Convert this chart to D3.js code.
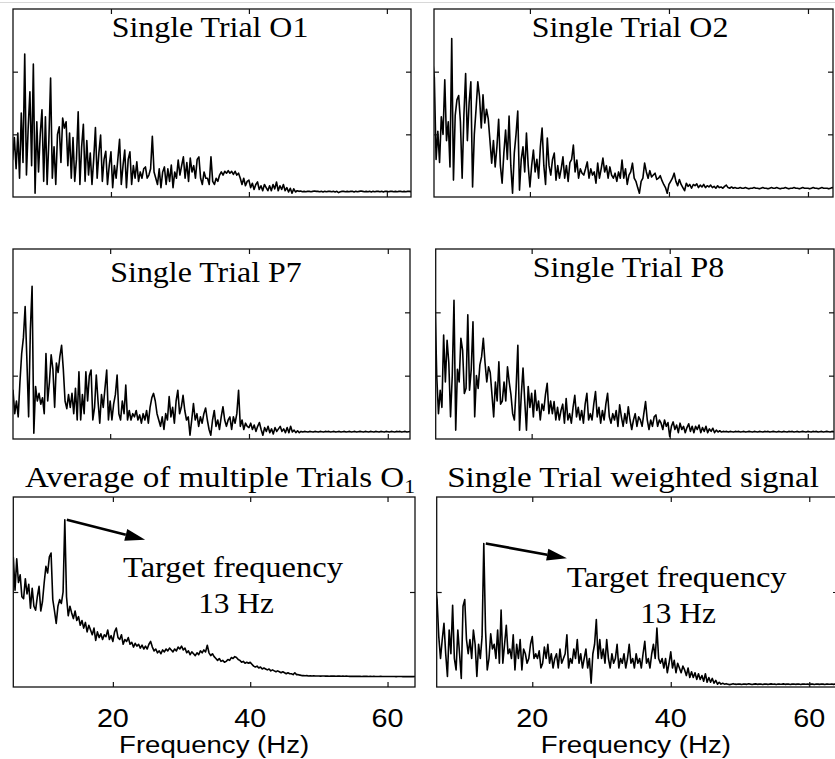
<!DOCTYPE html>
<html>
<head>
<meta charset="utf-8">
<script src="https://cdn.jsdelivr.net/npm/d3@7"></script>
<style>
  html, body { margin: 0; padding: 0; background: #fff; }
  svg { display: block; }
</style>
</head>
<body>
<svg id="chart" width="835" height="759"></svg>
<script>
// Frequency grid shared by all spectra (Hz)
const freqStart = 5.5;
const freqStep = 0.25;

// Amplitude spectra, one value per 0.25 Hz from 5.5 Hz to 64 Hz
const singleO1 = [
  0.9,0.6, 0.95,0.45,1.02,0.30, 1.34,0.55,2.28,0.35, 1.1,1.68,0.5,2.12, 0.06,1.2,0.4,1.0,
  1.39,0.25,1.28,0.2, 0.9,1.90,0.3,0.8, 0.2,1.0,1.12,0.55, 1.26,1.1,1.2,0.5, 1.02,0.3,0.95,0.25,
  0.6,1.36,0.2,0.8, 1.16,0.25,0.9,0.35, 0.7,0.2,0.6,1.11, 0.3,0.7,0.99,0.25, 0.6,0.73,0.2,0.5,
  0.72,0.15,0.5,0.3, 0.6,0.92,0.2,0.5, 0.75,0.15,0.6,0.72, 0.2,0.5,0.3,0.56, 0.25,0.4,0.3,0.45,
  0.48,0.3,0.35,0.45, 0.97,0.4,0.3,0.2, 0.45,0.15,0.4,0.48, 0.2,0.45,0.25,0.51, 0.15,0.4,0.3,0.59,
  0.35,0.5,0.64,0.3, 0.55,0.25,0.62,0.4, 0.5,0.3,0.6,0.64, 0.3,0.2,0.4,0.3, 0.3,0.2,0.64,0.25,
  0.2,0.3,0.25,0.35, 0.4,0.35,0.41,0.38, 0.42,0.38,0.41,0.36, 0.41,0.35,0.38,0.3, 0.2,0.3,0.18,0.25,
  0.27,0.15,0.22,0.12, 0.2,0.24,0.12,0.18, 0.1,0.2,0.15,0.1, 0.18,0.1,0.2,0.13, 0.24,0.1,0.18,0.12,
  0.2,0.1,0.15,0.08, 0.14,0.06,0.13,0.08, 0.1,0.09,0.095,0.085, 0.09,0.085,0.09,0.09, 0.085,0.09,0.095,0.09,
  0.09,0.085,0.09,0.08, 0.09,0.085,0.09,0.09, 0.085,0.09,0.08,0.09, 0.07,0.085,0.09,0.09, 0.085,0.09,0.085,0.09,
  0.09,0.08,0.09,0.085, 0.09,0.095,0.09,0.085, 0.09,0.085,0.09,0.08, 0.09,0.085,0.09,0.09, 0.085,0.09,0.08,0.09,
  0.09,0.085,0.09,0.09, 0.085,0.09,0.085,0.09, 0.09,0.085,0.09,0.085, 0.09,0.09,0.085,0.09, 0.09
];

const singleO2 = [
  2.2,2.2, 2.2,1.9,0.6,1.05, 0.55,1.28,1.0,1.87, 0.9,1.2,0.48,2.53, 0.27,1.3,1.55,1.62,
  1.2,0.3,1.3,1.97, 0.9,1.5,1.84,0.16, 1.0,1.4,1.84,1.6, 1.1,1.63,1.18,1.4, 1.25,0.9,0.54,0.9,
  0.48,0.8,1.24,0.5, 0.22,0.7,1.07,0.6, 1.29,0.5,0.06,0.7, 1.0,1.37,0.11,0.6, 0.8,0.4,1.02,0.5,
  0.16,0.5,0.75,0.4, 0.6,0.3,0.8,1.1, 0.5,0.2,0.94,0.5, 0.35,0.6,0.7,0.27, 0.5,0.3,0.45,0.64,
  0.3,0.5,0.25,0.55, 0.6,0.83,0.4,0.59, 0.3,0.45,0.38,0.35, 0.45,0.56,0.3,0.45, 0.35,0.4,0.22,0.54,
  0.3,0.45,0.62,0.4, 0.5,0.3,0.48,0.35, 0.3,0.38,0.25,0.4, 0.3,0.59,0.3,0.45, 0.2,0.35,0.4,0.54,
  0.3,0.25,0.15,0.06, 0.25,0.3,0.54,0.4, 0.3,0.42,0.32,0.35, 0.38,0.28,0.3,0.34, 0.26,0.2,0.15,0.06,
  0.2,0.25,0.3,0.38, 0.25,0.18,0.28,0.2, 0.15,0.1,0.22,0.17, 0.2,0.14,0.2,0.18, 0.21,0.15,0.19,0.16,
  0.2,0.15,0.18,0.16, 0.19,0.15,0.17,0.14, 0.18,0.15,0.16,0.14, 0.17,0.19,0.15,0.14, 0.16,0.14,0.15,0.14,
  0.14,0.15,0.14,0.14, 0.15,0.14,0.13,0.14, 0.14,0.15,0.14,0.14, 0.13,0.14,0.15,0.14, 0.14,0.13,0.14,0.15,
  0.14,0.14,0.15,0.14, 0.13,0.14,0.14,0.15, 0.14,0.13,0.14,0.14, 0.15,0.14,0.14,0.13, 0.14,0.15,0.14,0.14,
  0.14,0.13,0.14,0.15, 0.14,0.14,0.13,0.14, 0.15,0.14,0.14,0.14, 0.13,0.14,0.15,0.14, 0.14
];

const singleP7 = [
  0.6,0.5, 0.77,0.4,0.6,0.35, 0.9,1.35,1.6,2.09, 1.25,0.35,1.72,2.41, 0.09,0.83,0.6,0.72,
  0.55,0.65,0.4,1.35, 0.6,0.9,1.33,1.1, 0.5,1.2,1.05,1.3, 1.48,1.1,0.6,0.48, 0.7,0.5,0.72,0.4,
  0.8,0.3,1.06,0.3, 0.7,0.4,1.06,0.6, 1.0,1.09,0.3,0.5, 1.01,0.6,0.25,0.7, 0.5,0.8,1.09,0.3,
  0.6,0.3,0.55,0.7, 1.01,0.4,0.3,0.6, 0.4,0.85,0.3,0.45, 0.3,0.4,0.35,0.45, 0.3,0.38,0.25,0.4,
  0.3,0.45,0.25,0.5, 0.65,0.72,0.6,0.4, 0.3,0.2,0.35,0.15, 0.4,0.3,0.67,0.35, 0.5,0.25,0.6,0.77,
  0.4,0.5,0.69,0.45, 0.3,0.35,0.06,0.3, 0.56,0.3,0.4,0.2, 0.35,0.25,0.4,0.49, 0.3,0.15,0.06,0.3,
  0.45,0.2,0.3,0.15, 0.35,0.51,0.3,0.2, 0.3,0.35,0.15,0.35, 0.25,0.4,0.77,0.2, 0.3,0.15,0.25,0.2,
  0.18,0.25,0.15,0.22, 0.12,0.2,0.26,0.15, 0.06,0.18,0.12,0.2, 0.1,0.16,0.08,0.18, 0.12,0.16,0.2,0.12,
  0.16,0.1,0.18,0.1, 0.2,0.11,0.14,0.1, 0.13,0.1,0.12,0.11, 0.12,0.115,0.11,0.12, 0.115,0.11,0.12,0.115,
  0.11,0.12,0.115,0.11, 0.12,0.115,0.12,0.11, 0.115,0.12,0.11,0.115, 0.12,0.11,0.115,0.12, 0.11,0.115,0.12,0.11,
  0.115,0.12,0.11,0.115, 0.12,0.115,0.11,0.12, 0.115,0.11,0.12,0.115, 0.11,0.12,0.115,0.11, 0.12,0.115,0.11,0.12,
  0.115,0.11,0.12,0.115, 0.11,0.12,0.115,0.12, 0.11,0.115,0.12,0.11, 0.115,0.12,0.11,0.115, 0.12
];

const singleP8 = [
  2.2,2.2, 2.2,1.0,0.4,0.77, 0.5,1.64,0.9,1.56, 1.2,0.35,1.0,2.19, 0.14,1.1,0.9,1.59,
  1.4,0.72,0.8,1.96, 0.77,1.1,1.85,0.35, 1.0,0.8,1.17,1.3, 1.59,1.2,0.9,1.14, 1.05,0.7,0.35,0.9,
  0.6,1.22,0.55,0.6, 0.9,0.6,1.14,0.9, 0.7,0.4,0.3,0.8, 1.48,0.14,0.7,1.12, 0.6,0.14,0.83,0.5,
  0.72,0.35,0.77,0.45, 0.6,0.3,0.55,0.45, 0.7,0.88,0.4,0.6, 0.4,0.59,0.3,0.5, 0.3,0.45,0.55,0.25,
  0.64,0.3,0.4,0.25, 0.5,0.69,0.35,0.5, 0.3,0.45,0.25,0.55, 0.72,0.3,0.4,0.3, 0.55,0.75,0.35,0.5,
  0.25,0.45,0.3,0.55, 0.72,0.35,0.25,0.4, 0.3,0.45,0.2,0.54, 0.35,0.2,0.4,0.25, 0.51,0.3,0.15,0.3,
  0.4,0.2,0.35,0.3, 0.2,0.4,0.59,0.3, 0.15,0.3,0.2,0.35, 0.38,0.2,0.3,0.25, 0.15,0.3,0.2,0.26,
  0.04,0.2,0.27,0.15, 0.22,0.1,0.25,0.15, 0.2,0.1,0.18,0.24, 0.12,0.2,0.1,0.2, 0.15,0.22,0.1,0.18,
  0.12,0.2,0.1,0.16, 0.12,0.17,0.1,0.14, 0.11,0.13,0.11,0.12, 0.115,0.12,0.11,0.12, 0.115,0.11,0.12,0.115,
  0.12,0.11,0.115,0.12, 0.11,0.115,0.12,0.115, 0.11,0.12,0.115,0.11, 0.12,0.115,0.11,0.12, 0.115,0.12,0.11,0.115,
  0.12,0.115,0.11,0.12, 0.115,0.11,0.12,0.115, 0.11,0.12,0.115,0.12, 0.11,0.115,0.12,0.11, 0.115,0.12,0.115,0.11,
  0.12,0.115,0.11,0.12, 0.115,0.12,0.11,0.115, 0.12,0.11,0.115,0.12, 0.115,0.11,0.12,0.115, 0.12
];

const averageO1 = [
  1.37,1.02, 1.35,1.1,1.18,0.95, 0.93,1.14,0.98,1.08, 0.83,1.04,0.85,0.81, 0.95,1.06,0.8,0.9,
  1.1,1.27,1.2,1.37, 1.41,0.92,0.8,0.67, 0.85,0.92,0.88,1.0, 1.76,0.95,0.75,0.85, 0.78,0.72,0.8,0.7,
  0.74,0.65,0.7,0.62, 0.68,0.58,0.65,0.6, 0.55,0.62,0.49,0.58, 0.52,0.56,0.5,0.55, 0.53,0.6,0.5,0.54,
  0.48,0.58,0.62,0.52, 0.5,0.55,0.45,0.5, 0.48,0.52,0.45,0.47, 0.42,0.46,0.43,0.45, 0.41,0.44,0.4,0.43,
  0.4,0.45,0.48,0.42, 0.38,0.4,0.36,0.38, 0.35,0.39,0.37,0.4, 0.38,0.41,0.39,0.37, 0.4,0.38,0.42,0.4,
  0.43,0.39,0.41,0.36, 0.38,0.34,0.37,0.35, 0.33,0.36,0.34,0.38, 0.36,0.39,0.37,0.44, 0.36,0.33,0.35,0.32,
  0.3,0.28,0.3,0.27, 0.28,0.26,0.27,0.29, 0.28,0.31,0.3,0.32, 0.31,0.29,0.28,0.26, 0.27,0.25,0.26,0.25,
  0.26,0.24,0.22,0.21, 0.22,0.2,0.21,0.19, 0.2,0.19,0.18,0.19, 0.17,0.18,0.17,0.16, 0.17,0.16,0.15,0.16,
  0.15,0.14,0.15,0.14, 0.14,0.13,0.15,0.13, 0.13,0.125,0.12,0.12, 0.118,0.12,0.116,0.118, 0.115,0.117,0.115,0.116,
  0.115,0.114,0.116,0.115, 0.114,0.115,0.113,0.115, 0.114,0.115,0.113,0.114, 0.115,0.113,0.114,0.113, 0.114,0.113,0.112,0.113,
  0.112,0.113,0.112,0.113, 0.112,0.111,0.112,0.113, 0.112,0.111,0.112,0.111, 0.112,0.111,0.11,0.111, 0.112,0.111,0.11,0.111,
  0.11,0.111,0.11,0.111, 0.11,0.109,0.11,0.111, 0.11,0.109,0.11,0.109, 0.11,0.109,0.11,0.109, 0.11
];

const weightedSignal = [
  1.06,1.06, 1.06,0.92,0.53,0.3, 0.5,0.67,0.35,0.11, 0.6,0.35,0.86,0.3, 0.18,0.6,0.35,0.09,
  0.85,0.92,0.5,0.35, 0.5,0.3,0.6,0.45, 0.11,0.45,0.3,0.53, 1.51,0.6,0.18,0.3, 0.56,0.4,0.45,0.3,
  0.6,0.25,0.81,0.25, 0.45,0.65,0.35,0.4, 0.3,0.55,0.18,0.45, 0.3,0.5,0.18,0.4, 0.35,0.25,0.3,0.45,
  0.53,0.3,0.35,0.3, 0.38,0.2,0.25,0.42, 0.3,0.45,0.25,0.35, 0.2,0.3,0.35,0.2, 0.4,0.25,0.3,0.35,
  0.55,0.2,0.3,0.25, 0.4,0.3,0.5,0.25, 0.35,0.2,0.3,0.4, 0.2,0.3,0.04,0.35, 0.45,0.71,0.3,0.5,
  0.3,0.4,0.25,0.5, 0.3,0.2,0.35,0.25, 0.3,0.45,0.2,0.3, 0.25,0.35,0.2,0.3, 0.45,0.25,0.3,0.2,
  0.35,0.25,0.3,0.2, 0.35,0.48,0.25,0.3, 0.2,0.35,0.45,0.3, 0.62,0.3,0.25,0.3, 0.2,0.3,0.15,0.25,
  0.37,0.2,0.28,0.15, 0.25,0.2,0.15,0.22, 0.18,0.12,0.2,0.1, 0.16,0.1,0.15,0.08, 0.14,0.08,0.12,0.06,
  0.14,0.05,0.1,0.05, 0.09,0.04,0.07,0.03, 0.05,0.03,0.04,0.03, 0.035,0.03,0.025,0.03, 0.035,0.03,0.028,0.032,
  0.03,0.026,0.032,0.03, 0.028,0.034,0.03,0.027, 0.03,0.033,0.028,0.03, 0.032,0.027,0.03,0.031, 0.028,0.03,0.033,0.029,
  0.03,0.027,0.032,0.03, 0.029,0.033,0.028,0.03, 0.031,0.027,0.03,0.032, 0.028,0.03,0.031,0.027, 0.03,0.032,0.029,0.03,
  0.028,0.031,0.03,0.027, 0.032,0.03,0.028,0.031, 0.03,0.027,0.032,0.03, 0.029,0.031,0.028,0.03, 0.03
];

const panelTitles = [
  "Single Trial O1", "Single Trial O2",
  "Single Trial P7", "Single Trial P8",
  "Average of multiple Trials O", "Single Trial weighted signal"
];
const xTickValues = [20, 40, 60];
const xAxisTitle = "Frequency (Hz)";
const annotationLines = ["Target frequency", "13 Hz"];
const targetFreq = 13;

// Panel frames (pixels) and axis ranges
const panels = [
  { values: singleO1, title: panelTitles[0], x0: 13, x1: 411, y0: 9, y1: 197, xd: [5.8, 63.5], ymax: 3, yt: [1, 2], tx: 210, ty: 37.3, ts: 1.1 },
  { values: singleO2, title: panelTitles[1], x0: 434, x1: 833, y0: 9, y1: 197, xd: [6.2, 63.6], ymax: 3, yt: [1, 2], tx: 630, ty: 37.3, ts: 1.1 },
  { values: singleP7, title: panelTitles[2], x0: 13, x1: 410, y0: 249, y1: 439, xd: [6.0, 63.2], ymax: 3, yt: [1, 2], tx: 206, ty: 281.7, ts: 1.1 },
  { values: singleP8, title: panelTitles[3], x0: 435.7, x1: 834, y0: 249, y1: 439, xd: [6.1, 63.8], ymax: 3, yt: [1, 2], tx: 628.5, ty: 276.7, ts: 1.1 },
  { values: averageO1, title: panelTitles[4], sub: "1", x0: 13.3, x1: 415, y0: 497, y1: 687, xd: [5.5, 64], ymax: 2, yt: [1], tx: 220, ty: 486.7, ts: 1.14,
    labels: true, arrowTo: [24.7, 1.55], note: [233, 576.7, 236, 613.3] },
  { values: weightedSignal, title: panelTitles[5], x0: 436.7, x1: 838, y0: 497, y1: 687, xd: [6.2, 64.15], ymax: 2, yt: [1], tx: 633, ty: 486.7, ts: 1.14,
    labels: true, arrowTo: [25.0, 1.355], note: [676.7, 586.7, 678, 623.3] }
];

const svg = d3.select("#chart");
const serif = "'Liberation Serif', 'Times New Roman', serif";
const sans = "'Liberation Sans', Arial, sans-serif";
const ink = "#111";

// faint rule along the top edge
svg.append("line").attr("x1", 0).attr("x2", 835).attr("y1", 2.5).attr("y2", 2.5)
  .attr("stroke", "#d8d8d8").attr("stroke-width", 1);

const defs = svg.append("defs");

panels.forEach((p, i) => {
  const x = d3.scaleLinear().domain(p.xd).range([p.x0, p.x1]);
  const y = d3.scaleLinear().domain([0, p.ymax]).range([p.y1, p.y0]);
  const g = svg.append("g");

  defs.append("clipPath").attr("id", "clip" + i)
    .append("rect").attr("x", p.x0).attr("y", p.y0)
    .attr("width", p.x1 - p.x0).attr("height", p.y1 - p.y0);

  // spectrum trace
  const line = d3.line()
    .x((d, k) => x(freqStart + k * freqStep))
    .y(d => y(d));
  g.append("path")
    .datum(p.values)
    .attr("clip-path", `url(#clip${i})`)
    .attr("d", line)
    .attr("fill", "none")
    .attr("stroke", "#000")
    .attr("stroke-width", 1.6)
    .attr("stroke-linejoin", "round");

  // inward ticks on all four sides
  const tl = 5;
  const bottomAxis = d3.axisBottom(x).tickValues(xTickValues).tickSizeInner(-tl).tickSizeOuter(0).tickFormat("");
  const topAxis = d3.axisTop(x).tickValues(xTickValues).tickSizeInner(-tl).tickSizeOuter(0).tickFormat("");
  const leftAxis = d3.axisLeft(y).tickValues(p.yt).tickSizeInner(-tl).tickSizeOuter(0).tickFormat("");
  const rightAxis = d3.axisRight(y).tickValues(p.yt).tickSizeInner(-tl).tickSizeOuter(0).tickFormat("");
  [[bottomAxis, `translate(0,${p.y1})`], [topAxis, `translate(0,${p.y0})`],
   [leftAxis, `translate(${p.x0},0)`], [rightAxis, `translate(${p.x1},0)`]].forEach(([ax, tr]) => {
    const a = g.append("g").attr("transform", tr).call(ax);
    a.select(".domain").remove();
    a.selectAll("line").attr("stroke", ink).attr("stroke-width", 1.2);
  });

  // frame
  g.append("rect")
    .attr("x", p.x0).attr("y", p.y0)
    .attr("width", p.x1 - p.x0).attr("height", p.y1 - p.y0)
    .attr("fill", "none").attr("stroke", ink).attr("stroke-width", 1.3);

  // title
  const t = svg.append("text")
    .attr("transform", `translate(${p.tx},${p.ty}) scale(${p.ts},1)`)
    .attr("text-anchor", "middle")
    .attr("font-family", serif).attr("font-size", 29).attr("fill", "#000")
    .text(p.title);
  if (p.sub) {
    t.append("tspan").attr("font-size", 19).attr("dy", 6).text(p.sub);
  }

  if (p.labels) {
    const peak = p.values[Math.round((targetFreq - freqStart) / freqStep)];
    const sx = x(targetFreq) + 2, sy = y(peak);
    const ex = x(p.arrowTo[0]), ey = y(p.arrowTo[1]);
    const ang = Math.atan2(ey - sy, ex - sx);
    const hl = 20, hw = 6;
    const bx = ex - hl * Math.cos(ang), by = ey - hl * Math.sin(ang);
    g.append("line").attr("x1", sx).attr("y1", sy).attr("x2", bx).attr("y2", by)
      .attr("stroke", "#000").attr("stroke-width", 2.6);
    g.append("path")
      .attr("d", `M${ex},${ey} L${bx - hw * Math.sin(ang)},${by + hw * Math.cos(ang)} L${bx + hw * Math.sin(ang)},${by - hw * Math.cos(ang)} Z`)
      .attr("fill", "#000");

    svg.append("text")
      .attr("transform", `translate(${p.note[0]},${p.note[1]}) scale(1.14,1)`)
      .attr("text-anchor", "middle").attr("font-family", serif).attr("font-size", 28.5)
      .text(annotationLines[0]);
    svg.append("text")
      .attr("transform", `translate(${p.note[2]},${p.note[3]}) scale(1.1,1)`)
      .attr("text-anchor", "middle").attr("font-family", serif).attr("font-size", 28.5)
      .text(annotationLines[1]);

    // tick labels and axis title
    xTickValues.forEach(v => {
      svg.append("text")
        .attr("transform", `translate(${x(v)},726.7) scale(1.15,1)`)
        .attr("text-anchor", "middle").attr("font-family", sans).attr("font-size", 25)
        .attr("fill", "#000").text(v);
    });
    svg.append("text")
      .attr("transform", `translate(${(p.x0 + Math.min(p.x1, 835)) / 2},753) scale(1.15,1)`)
      .attr("text-anchor", "middle").attr("font-family", sans).attr("font-size", 24)
      .attr("fill", "#000").text(xAxisTitle);
  }
});
</script>
</body>
</html>
